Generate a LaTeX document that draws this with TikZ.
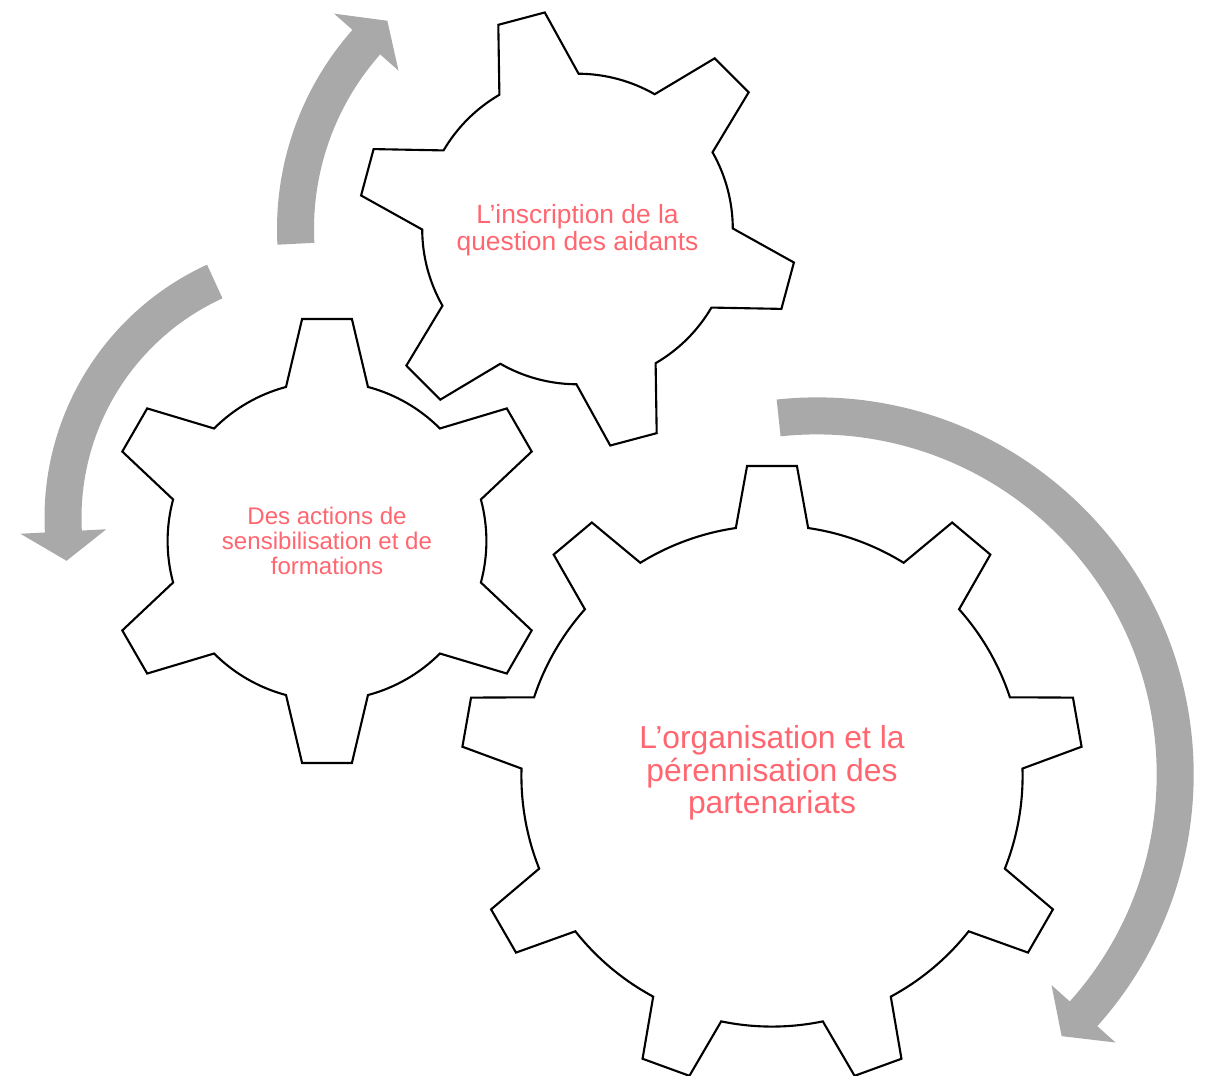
\documentclass[tikz,border=0pt]{standalone}
\usepackage{fontspec}
\setmainfont{Liberation Sans}
\usepackage{xcolor}
\usepackage{tikz}
\usetikzlibrary{calc}
\definecolor{gearred}{RGB}{255,102,112}
\definecolor{arrowgray}{RGB}{169,169,169}
\tikzset{
    gearline/.style={draw=black, fill=white, line width=1.2pt, line join=miter},
    arrowfill/.style={fill=arrowgray, draw=none},
    gearlabel/.style={text=gearred, align=center, inner sep=0pt}
}
% center, teeth, first angle, inner r, outer r, base half angle, tip half angle
\newcommand{\drawgear}[7]{%
    \pgfmathtruncatemacro{\lastk}{#2-1}
    \filldraw[gearline] ($(#1)+({#3-#6}:#4)$)
        \foreach \k [evaluate=\k as \a using {#3+\k*360/#2}] in {0,...,\lastk} {
            -- ($(#1)+({\a-#7}:#5)$) -- ($(#1)+({\a+#7}:#5)$) -- ($(#1)+({\a+#6}:#4)$)
            arc[start angle={\a+#6}, end angle={\a+360/#2-#6}, radius=#4]
        } -- cycle;
}
% center, radius, tail angle, head base angle, tip angle
\newcommand{\cyclearrow}[5]{%
    \fill[arrowfill] ($(#1)+(#3:{#2+18.5})$)
        arc[start angle=#3, end angle=#4, radius={#2+18.5}]
        -- ($(#1)+(#4:{#2+43})$) -- ($(#1)+(#5:#2)$) -- ($(#1)+(#4:{#2-43})$)
        -- ($(#1)+(#4:{#2-18.5})$)
        arc[start angle=#4, end angle=#3, radius={#2-18.5}] -- cycle;
}

\begin{document}
\begin{tikzpicture}[x=0.02cm, y=0.02cm]
            \useasboundingbox (0,0) rectangle (1208,1076);

            \coordinate (g1) at (772,300);
            \coordinate (g2) at (577.5,847);
            \coordinate (g3) at (327,535);
            \coordinate (a1) at (577.5,847);
            \coordinate (a2) at (323,558.1);
            \coordinate (a3) at (816.7,301.6);

            \cyclearrow{a1}{282}{183}{138.5}{132.4}
            \cyclearrow{a2}{260}{114.6}{183}{189.5}
            \cyclearrow{a3}{358.5}{96.1}{-41.9}{-46.9}

            \drawgear{g1}{9}{90}{250.6}{311}{8.3}{4.6}
            \drawgear{g2}{6}{104.9}{155.3}{219}{15.3}{6.3}
            \drawgear{g3}{6}{90}{159.4}{223.4}{14.9}{6.4}

            \node[gearlabel, font=\fontsize{18.1}{18.4}\selectfont] (orga) at (772,303)
                {L’organisation et la\\pérennisation des\\partenariats};
            \node[gearlabel, font=\fontsize{15}{15.1}\selectfont] (inscr) at (577.5,846)
                {L’inscription de la\\question des aidants};
            \node[gearlabel, font=\fontsize{13.7}{14.2}\selectfont] (actions) at (327,535)
                {Des actions de\\sensibilisation et de\\formations};
        \end{tikzpicture}
\end{document}
